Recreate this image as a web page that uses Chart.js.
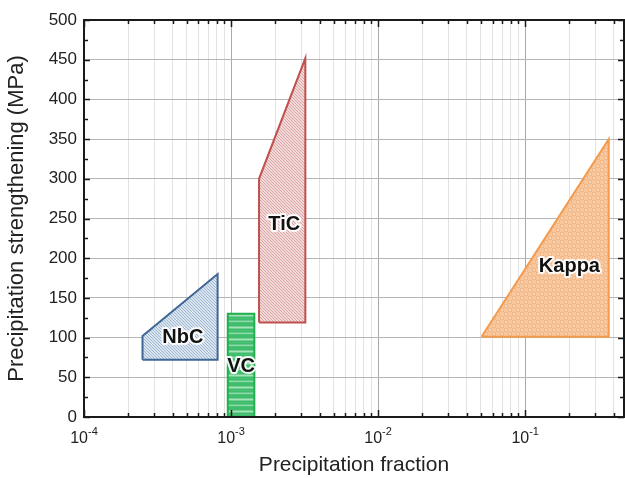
<!DOCTYPE html>
<html>
<head>
<meta charset="utf-8">
<script src="https://cdn.jsdelivr.net/npm/chart.js@4/dist/chart.umd.min.js"></script>
<style>
  html, body { margin: 0; padding: 0; background: #fff; }
  #wrap { width: 625px; height: 478px; }
</style>
</head>
<body>
<div id="wrap"><canvas id="chart" width="625" height="478"></canvas></div>
<script>
// x axis: decades shown as 10^n, y axis in MPa
const xDecades = [1e-4, 1e-3, 1e-2, 1e-1];
const xExponents = ['-4', '-3', '-2', '-1'];
const yTickValues = [0, 50, 100, 150, 200, 250, 300, 350, 400, 450, 500];

const phases = ['NbC', 'VC', 'TiC', 'Kappa'];

// outline corners of each region (fraction, MPa)
const nbcFraction = [2.5e-4, 2.5e-4, 8.1e-4, 8.1e-4, 2.5e-4];
const nbcStrength = [72, 102, 180, 72, 72];

const vcFraction = [9.5e-4, 9.5e-4, 1.44e-3, 1.44e-3, 9.5e-4];
const vcStrength = [0, 130, 130, 0, 0];

const ticFraction = [1.55e-3, 1.55e-3, 3.2e-3, 3.2e-3, 1.55e-3];
const ticStrength = [119, 300, 452, 119, 119];

const kappaFraction = [0.0505, 0.37, 0.37, 0.0505];
const kappaStrength = [101, 350, 101, 101];

const FONT = '"Liberation Sans", Arial, sans-serif';

function diagHatch(base, line) {
  const c = document.createElement('canvas');
  c.width = 3; c.height = 3;
  const g = c.getContext('2d');
  g.fillStyle = base; g.fillRect(0, 0, 3, 3);
  g.fillStyle = line;
  for (let i = 0; i < 3; i++) g.fillRect(i, i, 1, 1);
  return g.createPattern(c, 'repeat');
}

function stripes() {
  const rows = ['#3fbd6d', '#3fbd6d', '#6fcf90', '#a6e2bb', '#6fcf90', '#3fbd6d',
                '#48c175', '#3fbd6d', '#62ca87', '#8fdaa9', '#4cc278', '#3fbd6d'];
  const c = document.createElement('canvas');
  c.width = 1; c.height = rows.length;
  const g = c.getContext('2d');
  rows.forEach((col, i) => { g.fillStyle = col; g.fillRect(0, i, 1, 1); });
  return g.createPattern(c, 'repeat');
}

function checker() {
  const c = document.createElement('canvas');
  c.width = 8; c.height = 8;
  const g = c.getContext('2d');
  g.fillStyle = '#f7c69c'; g.fillRect(0, 0, 8, 8);
  g.fillStyle = '#f2b888';
  g.fillRect(0, 0, 4, 4); g.fillRect(4, 4, 4, 4);
  g.fillStyle = '#f9d3b2';
  g.fillRect(1, 1, 2, 2); g.fillRect(5, 5, 2, 2);
  return g.createPattern(c, 'repeat');
}

function toPoints(xs, ys) {
  return xs.map((v, i) => ({ x: v, y: ys[i] }));
}

const regions = [
  { data: toPoints(nbcFraction, nbcStrength), border: '#3f6696', fill: diagHatch('#dbe5f0', '#9fb6d0') },
  { data: toPoints(vcFraction, vcStrength), border: '#22b04e', fill: stripes() },
  { data: toPoints(ticFraction, ticStrength), border: '#c0504d', fill: diagHatch('#f2dada', '#d9a4a4') },
  { data: toPoints(kappaFraction, kappaStrength), border: '#f39a4c', fill: checker() }
];

// where each name sits, in data units
const labelAt = {
  NbC: [4.7e-4, 100],
  VC: [1.17e-3, 63],
  TiC: [2.3e-3, 242],
  Kappa: [0.2, 190]
};

const frame = {
  id: 'frame',
  afterDatasetsDraw(chart) {
    const { ctx, scales: { x, y } } = chart;
    ctx.save();
    ctx.font = 'bold 20px ' + FONT;
    ctx.textAlign = 'center';
    ctx.textBaseline = 'middle';
    ctx.lineJoin = 'round';
    phases.forEach(name => {
      const [lx, ly] = labelAt[name];
      const px = x.getPixelForValue(lx), py = y.getPixelForValue(ly);
      ctx.strokeStyle = 'rgba(255,255,255,0.9)';
      ctx.lineWidth = 4;
      ctx.strokeText(name, px, py);
      ctx.fillStyle = '#111';
      ctx.fillText(name, px, py);
    });
    ctx.restore();
  },
  afterDraw(chart) {
    const { ctx, chartArea: a, scales: { x, y } } = chart;
    ctx.save();
    ctx.strokeStyle = '#1a1a1a';
    ctx.lineWidth = 1.5;
    ctx.beginPath();
    for (let v = 0; v <= 500; v += 25) {
      const py = Math.round(y.getPixelForValue(v)) + 0.5;
      const len = v % 50 === 0 ? 6 : 4;
      ctx.moveTo(a.left, py); ctx.lineTo(a.left + len, py);
      ctx.moveTo(a.right, py); ctx.lineTo(a.right - len, py);
    }
    x.ticks.forEach(t => {
      const px = Math.round(x.getPixelForValue(t.value)) + 0.5;
      const len = xDecades.includes(t.value) ? 7 : 4;
      ctx.moveTo(px, a.bottom); ctx.lineTo(px, a.bottom - len);
      ctx.moveTo(px, a.top); ctx.lineTo(px, a.top + len);
    });
    ctx.stroke();
    ctx.lineWidth = 2;
    ctx.strokeRect(a.left, a.top, a.right - a.left, a.bottom - a.top);

    // decade labels with superscript exponent
    ctx.fillStyle = '#222';
    ctx.textBaseline = 'alphabetic';
    ctx.textAlign = 'left';
    xDecades.forEach((d, i) => {
      const px = x.getPixelForValue(d);
      ctx.font = '16px ' + FONT;
      const w1 = ctx.measureText('10').width;
      ctx.font = '11px ' + FONT;
      const w2 = ctx.measureText(xExponents[i]).width;
      const start = px - (w1 + w2) / 2;
      ctx.font = '16px ' + FONT;
      ctx.fillText('10', start, a.bottom + 26);
      ctx.font = '11px ' + FONT;
      ctx.fillText(xExponents[i], start + w1, a.bottom + 18);
    });
    ctx.restore();
  }
};

new Chart(document.getElementById('chart'), {
  type: 'scatter',
  data: {
    datasets: regions.map((r, i) => ({
      label: phases[i],
      data: r.data,
      showLine: true,
      fill: 'shape',
      tension: 0,
      borderColor: r.border,
      borderWidth: 2,
      backgroundColor: r.fill,
      pointRadius: 0,
      pointHoverRadius: 0
    }))
  },
  options: {
    responsive: false,
    animation: false,
    devicePixelRatio: 1,
    layout: { padding: { top: 20, right: 1, left: 0, bottom: 0 } },
    plugins: { legend: { display: false }, tooltip: { enabled: false } },
    scales: {
      x: {
        type: 'logarithmic',
        min: 1e-4,
        max: 0.47,
        afterBuildTicks(scale) {
          const ticks = [];
          xDecades.forEach(d => {
            for (let m = 1; m <= 9; m++) {
              const v = m * d;
              if (v <= scale.max) ticks.push({ value: v });
            }
          });
          scale.ticks = ticks;
        },
        afterFit(scale) { scale.height = 61; },
        ticks: { display: false },
        grid: {
          drawTicks: false,
          color: ctx => xDecades.includes(ctx.tick.value) ? '#a9a9a9' : '#e2e2e2',
          lineWidth: 1
        },
        border: { display: false },
        title: {
          display: true,
          text: 'Precipitation fraction',
          color: '#222',
          font: { family: FONT, size: 21 },
          padding: { top: 0, bottom: 0 }
        }
      },
      y: {
        min: 0,
        max: 500,
        afterFit(scale) { scale.width = 84; },
        ticks: {
          stepSize: 25,
          padding: 7,
          color: '#222',
          font: { family: FONT, size: 17 },
          callback: v => (v % 50 === 0 && yTickValues.includes(v)) ? String(v) : ''
        },
        grid: {
          drawTicks: false,
          color: ctx => ctx.tick.value % 50 === 0 ? '#b5b5b5' : '#e5e5e5',
          lineWidth: 1
        },
        border: { display: false },
        title: {
          display: true,
          text: 'Precipitation strengthening (MPa)',
          color: '#222',
          font: { family: FONT, size: 22 },
          padding: { top: 4, bottom: 4 }
        }
      }
    }
  },
  plugins: [frame]
});
</script>
</body>
</html>
